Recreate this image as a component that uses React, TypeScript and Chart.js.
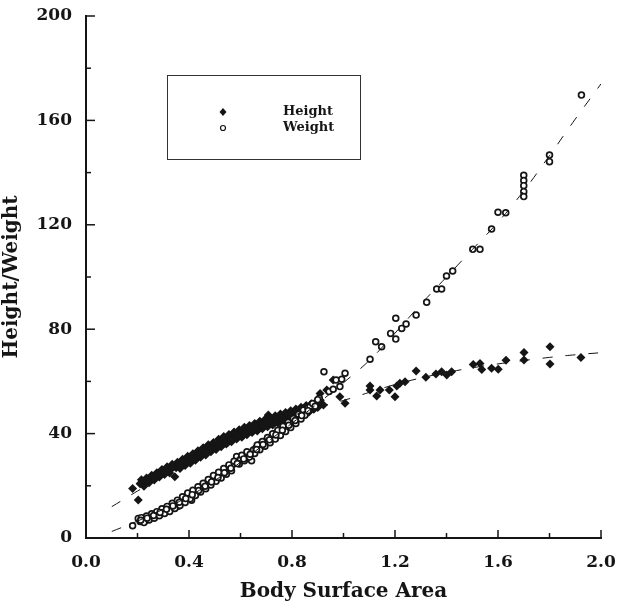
import React, { useEffect, useRef } from "react";
import { Chart, registerables } from "chart.js";

Chart.register(...registerables);

// Height (filled diamonds)
const heightBSA = [
  0.181, 0.203, 0.21, 0.22, 0.23, 0.24, 0.25, 0.26, 0.27, 0.28, 0.29, 0.3, 0.31, 0.32, 0.33, 0.34, 0.345, 0.35,
  0.36, 0.37, 0.38, 0.4, 0.41, 0.42, 0.43, 0.44, 0.45, 0.46, 0.47, 0.48, 0.49, 0.5, 0.51, 0.52, 0.53, 0.54,
  0.55, 0.56, 0.57, 0.58, 0.59, 0.6, 0.61, 0.62, 0.63, 0.64, 0.65, 0.66, 0.67, 0.68, 0.69, 0.7, 0.708, 0.71,
  0.72, 0.73, 0.74, 0.75, 0.76, 0.77, 0.78, 0.79, 0.8, 0.81, 0.82, 0.83, 0.84, 0.85, 0.86, 0.87, 0.88, 0.895,
  0.909, 0.922, 0.935, 0.96, 0.986, 1.006, 1.103, 1.103, 1.129, 1.142, 1.178, 1.2, 1.207, 1.219, 1.239, 1.282,
  1.32, 1.359, 1.381, 1.401, 1.42, 1.504, 1.53, 1.537, 1.575, 1.601, 1.631, 1.701, 1.701, 1.802, 1.802, 1.922,
  0.215, 0.225, 0.235, 0.245, 0.255, 0.265, 0.275, 0.285, 0.295, 0.305, 0.315, 0.325, 0.335, 0.355, 0.365,
  0.375, 0.385, 0.395, 0.405, 0.415, 0.425, 0.435, 0.445, 0.455, 0.465, 0.475, 0.485, 0.495, 0.505, 0.515,
  0.525, 0.535, 0.545, 0.555, 0.565, 0.575, 0.585, 0.595, 0.605, 0.615, 0.625, 0.635, 0.645, 0.655, 0.665,
  0.675, 0.685, 0.695, 0.705, 0.715, 0.725, 0.735, 0.745, 0.755, 0.765, 0.775, 0.785, 0.795, 0.805, 0.815,
  0.825, 0.835, 0.845, 0.855, 0.865, 0.875, 0.885, 0.895, 0.9, 0.91,
  0.2125, 0.2375, 0.2625, 0.2875, 0.3125, 0.3375, 0.3625, 0.3875, 0.4125, 0.4375, 0.4625, 0.4875, 0.5125, 0.5375,
  0.5625, 0.5875, 0.6125, 0.6375, 0.6625, 0.6875, 0.7125, 0.7375, 0.7625, 0.7875, 0.8125, 0.8375, 0.8625, 0.8875,
];
const heightVal = [
  19.0, 14.6, 20.8, 21.5, 21.0, 22.6, 22.0, 23.5, 23.0, 24.6, 24.0, 25.3, 26.2, 25.5, 26.8, 27.5, 23.5, 26.9,
  28.4, 27.8, 29.5, 30.2, 29.4, 31.3, 30.6, 32.4, 31.8, 33.5, 32.9, 34.6, 33.8, 35.5, 34.9, 36.6, 36.0, 37.4,
  36.6, 38.4, 37.8, 39.3, 38.6, 40.0, 39.4, 41.0, 40.3, 41.8, 41.2, 42.5, 41.9, 43.4, 42.7, 43.8, 47.1, 43.2,
  44.6, 44.0, 45.4, 44.8, 46.1, 45.5, 46.9, 46.2, 47.5, 46.9, 48.2, 47.6, 49.0, 48.3, 49.6, 48.9, 50.2, 51.0,
  55.4, 51.0, 56.7, 60.5, 54.1, 51.6, 58.2, 56.7, 54.4, 56.7, 56.7, 54.1, 58.2, 59.3, 59.9, 64.0,
  61.6, 62.8, 63.7, 62.5, 63.7, 66.5, 66.9, 64.6, 65.0, 64.7, 68.1, 71.1, 68.2, 73.3, 66.7, 69.2,
  22.3, 19.8, 23.0, 21.2, 24.0, 22.2, 25.0, 23.4, 26.2, 24.3, 27.3, 24.9, 28.3, 29.0, 26.6,
  30.2, 27.8, 31.3, 28.6, 32.3, 29.8, 33.4, 30.9, 34.6, 31.8, 35.7, 33.0, 36.6, 33.9, 37.8,
  35.0, 38.9, 36.0, 39.7, 36.9, 40.6, 37.9, 41.5, 38.6, 42.4, 39.6, 43.1, 40.4, 43.9, 41.0,
  44.7, 41.9, 45.4, 42.6, 46.1, 43.3, 46.8, 44.1, 47.5, 44.6, 48.1, 45.5, 48.8, 46.2, 49.4,
  46.9, 50.1, 47.6, 50.8, 48.2, 51.4, 49.3, 52.2, 50.0, 52.8,
  21.0, 22.2, 23.3, 24.5, 25.7, 27.0, 28.1, 29.3, 30.5, 31.8, 33.0, 34.3, 35.4, 36.8,
  37.9, 39.1, 40.2, 41.3, 42.3, 43.4, 44.4, 45.3, 46.3, 47.2, 48.1, 49.0, 49.9, 50.9,
];

// Weight (open circles)
const weightBSA = [
  0.181, 0.203, 0.21, 0.22, 0.23, 0.24, 0.25, 0.26, 0.27, 0.28, 0.29, 0.3, 0.31, 0.32, 0.33, 0.34, 0.35, 0.358,
  0.36, 0.37, 0.38, 0.39, 0.4, 0.41, 0.42, 0.43, 0.44, 0.45, 0.46, 0.47, 0.48, 0.49, 0.5, 0.51, 0.52, 0.53,
  0.54, 0.55, 0.56, 0.57, 0.585, 0.59, 0.6, 0.61, 0.62, 0.63, 0.643, 0.65, 0.66, 0.67, 0.68, 0.69, 0.7, 0.71,
  0.72, 0.73, 0.74, 0.75, 0.76, 0.77, 0.78, 0.79, 0.8, 0.81, 0.82, 0.83, 0.844, 0.862, 0.87, 0.88, 0.906,
  0.924, 0.944, 0.96, 0.971, 0.986, 0.993, 1.006, 1.103, 1.125, 1.148, 1.183, 1.203, 1.203, 1.226, 1.243,
  1.282, 1.323, 1.362, 1.381, 1.4, 1.424, 1.502, 1.53, 1.575, 1.6, 1.63, 1.7, 1.7, 1.7, 1.7, 1.7, 1.8, 1.8, 1.924,
  0.215, 0.225, 0.235, 0.245, 0.255, 0.265, 0.275, 0.285, 0.295, 0.305, 0.315, 0.325, 0.335, 0.345, 0.355,
  0.365, 0.375, 0.385, 0.395, 0.405, 0.415, 0.425, 0.435, 0.445, 0.455, 0.465, 0.475, 0.485, 0.495, 0.505,
  0.515, 0.525, 0.535, 0.545, 0.555, 0.565, 0.575, 0.595, 0.605, 0.615, 0.625, 0.635, 0.655, 0.665, 0.675,
  0.685, 0.695, 0.705, 0.715, 0.725, 0.735, 0.745, 0.755, 0.765, 0.775, 0.785, 0.795, 0.805, 0.815, 0.825,
  0.835, 0.85, 0.89, 0.9,
  0.2125, 0.2375, 0.2625, 0.2875, 0.3125, 0.3375, 0.3625, 0.3875, 0.4125, 0.4375, 0.4625, 0.4875, 0.5125, 0.5375,
  0.5625, 0.5875, 0.6125, 0.6375, 0.6625, 0.6875, 0.7125, 0.7375, 0.7625, 0.7875, 0.8125, 0.8375, 0.8625,
];
const weightVal = [
  4.7, 7.5, 6.3, 7.0, 6.6, 7.8, 8.2, 8.0, 9.1, 9.6, 9.3, 10.6, 11.2, 10.8, 12.0, 12.6, 12.9, 12.2,
  13.8, 14.3, 15.0, 15.6, 16.4, 14.5, 17.6, 18.3, 19.0, 19.8, 20.3, 21.2, 21.8, 22.4, 23.3, 23.8, 24.7, 25.3,
  26.0, 26.8, 27.3, 28.2, 31.2, 29.4, 30.2, 30.9, 31.7, 32.3, 29.6, 33.7, 34.5, 35.1, 36.0, 36.6, 37.4, 38.1,
  38.8, 39.6, 40.3, 41.0, 41.8, 42.5, 43.3, 44.0, 44.8, 45.6, 46.4, 47.2, 49.0, 49.8, 50.3, 51.5, 53.5,
  63.7, 56.1, 57.0, 60.5, 58.0, 60.8, 63.1, 68.5, 75.2, 73.3, 78.4, 76.2, 84.2, 80.3, 82.0,
  85.4, 90.3, 95.4, 95.4, 100.4, 102.3, 110.6, 110.6, 118.4, 124.8, 124.6, 139.0, 137.0, 135.0, 132.7, 130.8, 146.7, 144.2, 169.7,
  7.8, 5.9, 8.4, 6.9, 9.3, 7.6, 10.1, 8.5, 11.2, 9.4, 12.1, 10.2, 13.3, 11.3, 14.5,
  12.5, 15.8, 13.6, 17.2, 15.0, 18.3, 16.3, 19.6, 17.6, 21.0, 18.9, 22.4, 20.3, 23.9, 21.7,
  25.2, 23.0, 26.6, 24.4, 28.0, 25.8, 29.4, 28.4, 31.7, 29.6, 33.0, 31.0, 32.4, 35.6, 33.8,
  37.0, 35.2, 38.5, 36.5, 39.9, 37.9, 41.3, 39.3, 42.8, 40.8, 44.3, 42.3, 45.8, 43.9, 47.4,
  45.6, 47.0, 50.5, 53.0,
  6.8, 7.6, 8.6, 9.8, 11.0, 12.3, 13.7, 15.1, 16.6, 18.2, 19.8, 21.5, 23.2, 25.0,
  26.7, 28.5, 30.3, 32.1, 33.9, 35.8, 37.6, 39.5, 41.3, 43.2, 45.0, 46.9, 48.8,
];

// Fitted curves (dashed)
const fitBSA = [0.1, 0.2, 0.3, 0.4, 0.5, 0.6, 0.7, 0.8, 0.9, 1.0, 1.1, 1.2, 1.3, 1.4, 1.5, 1.6, 1.7, 1.8, 1.9, 2.0];
const heightFit = [12, 18, 23.8, 29.3, 34.3, 39, 43.2, 46.8, 50, 52.7, 55.8, 58.8, 61.3, 63.4, 65.2, 66.7, 68, 69.2, 70.2, 71];
const weightFit = [2.5, 6.5, 11, 16, 22, 29, 36.5, 44, 51.5, 59.5, 68, 78.5, 89.5, 100, 110.5, 121, 133, 146.5, 160.5, 174];

const xMajorTicks = [0, 0.4, 0.8, 1.2, 1.6, 2.0];
const yMajorTicks = [0, 40, 80, 120, 160, 200];
const legendLabels = ["Height", "Weight"];

const FONT = "'DejaVu Serif', 'Liberation Serif', serif";
const INK = "#151515";

const isMajor = (list: number[], v: number) => list.some((m) => Math.abs(m - v) < 1e-6);

const inwardTicks = {
  id: "inwardTicks",
  afterDraw(chart: any) {
    const { ctx, chartArea } = chart;
    const xs = chart.scales.x;
    const ys = chart.scales.y;
    ctx.save();
    ctx.strokeStyle = INK;
    ctx.lineWidth = 1.5;
    ys.ticks.forEach((t: any) => {
      const py = ys.getPixelForValue(t.value);
      const len = isMajor(yMajorTicks, t.value) ? 9 : 5;
      ctx.beginPath();
      ctx.moveTo(chartArea.left, py);
      ctx.lineTo(chartArea.left + len, py);
      ctx.stroke();
    });
    xs.ticks.forEach((t: any) => {
      const px = xs.getPixelForValue(t.value);
      const len = isMajor(xMajorTicks, t.value) ? 8 : 5;
      ctx.beginPath();
      ctx.moveTo(px, chartArea.bottom);
      ctx.lineTo(px, chartArea.bottom - len);
      ctx.stroke();
    });
    ctx.restore();
  },
};

const boxLegend = {
  id: "boxLegend",
  afterDraw(chart: any) {
    const { ctx, chartArea } = chart;
    const bx = chartArea.left + 81;
    const by = chartArea.top + 59;
    ctx.save();
    ctx.strokeStyle = "#333";
    ctx.lineWidth = 1;
    ctx.strokeRect(bx + 0.5, by + 0.5, 193, 84);
    const mx = bx + 56;
    ctx.fillStyle = INK;
    ctx.beginPath();
    ctx.moveTo(mx, by + 37 - 4);
    ctx.lineTo(mx + 3.5, by + 37);
    ctx.lineTo(mx, by + 37 + 4);
    ctx.lineTo(mx - 3.5, by + 37);
    ctx.closePath();
    ctx.fill();
    ctx.beginPath();
    ctx.arc(mx, by + 53, 2.5, 0, Math.PI * 2);
    ctx.fillStyle = "#fff";
    ctx.fill();
    ctx.lineWidth = 1.2;
    ctx.strokeStyle = INK;
    ctx.stroke();
    ctx.fillStyle = INK;
    ctx.font = `bold 13px ${FONT}`;
    ctx.textBaseline = "middle";
    ctx.textAlign = "left";
    ctx.fillText(legendLabels[0], bx + 116, by + 37);
    ctx.fillText(legendLabels[1], bx + 116, by + 53);
    ctx.restore();
  },
};

const pts = (xs: number[], ys: number[]) => xs.map((x, i) => ({ x, y: ys[i] }));

export default function App() {
  const ref = useRef<HTMLCanvasElement | null>(null);
  useEffect(() => {
    if (!ref.current) return;
    const chart = new Chart(ref.current, {
      type: "scatter",
      data: {
        datasets: [
          {
            label: "Height fit",
            data: pts(fitBSA, heightFit),
            showLine: true,
            borderColor: INK,
            borderWidth: 1,
            borderDash: [10, 13],
            pointRadius: 0,
            tension: 0.4,
            fill: false,
          },
          {
            label: "Weight fit",
            data: pts(fitBSA, weightFit),
            showLine: true,
            borderColor: INK,
            borderWidth: 1,
            borderDash: [10, 13],
            pointRadius: 0,
            tension: 0.4,
            fill: false,
          },
          {
            label: "Weight",
            data: pts(weightBSA, weightVal),
            pointStyle: "circle",
            pointRadius: 2.9,
            backgroundColor: "#fff",
            borderColor: INK,
            borderWidth: 1.7,
          },
          {
            label: "Height",
            data: pts(heightBSA, heightVal),
            pointStyle: "rectRot",
            pointRadius: 4.5,
            backgroundColor: INK,
            borderColor: INK,
            borderWidth: 0,
          },
        ],
      },
      options: {
        animation: false,
        responsive: true,
        maintainAspectRatio: false,
        layout: { padding: { left: 0, top: 16, right: 16, bottom: 0 } },
        plugins: { legend: { display: false }, tooltip: { enabled: false } },
        scales: {
          x: {
            type: "linear",
            min: 0,
            max: 2,
            afterFit: (s: any) => {
              s.height = 66;
              s.paddingLeft = 0;
              s.paddingRight = 0;
            },
            grid: { display: false, drawTicks: false },
            border: { display: true, color: INK, width: 2 },
            ticks: {
              stepSize: 0.2,
              autoSkip: false,
              maxRotation: 0,
              padding: 14,
              color: INK,
              font: { family: FONT, size: 17, weight: "bold" },
              callback: (v: any) => (isMajor(xMajorTicks, Number(v)) ? Number(v).toFixed(1) : ""),
            },
            title: {
              display: true,
              text: "Body Surface Area",
              color: INK,
              font: { family: FONT, size: 20, weight: "bold" },
              padding: { top: 0, bottom: 0 },
            },
          },
          y: {
            type: "linear",
            min: 0,
            max: 200,
            afterFit: (s: any) => {
              s.width = 86;
              s.paddingTop = 0;
              s.paddingBottom = 0;
            },
            grid: { display: false, drawTicks: false },
            border: { display: true, color: INK, width: 2 },
            ticks: {
              stepSize: 20,
              autoSkip: false,
              padding: 14,
              color: INK,
              font: { family: FONT, size: 17, weight: "bold" },
              callback: (v: any) => (isMajor(yMajorTicks, Number(v)) ? String(Math.round(Number(v))) : ""),
            },
            title: {
              display: true,
              text: "Height/Weight",
              color: INK,
              font: { family: FONT, size: 20, weight: "bold" },
              padding: { top: 0, bottom: 0 },
            },
          },
        },
      },
      plugins: [inwardTicks, boxLegend],
    });
    return () => chart.destroy();
  }, []);
  return (
    <div style={{ position: "fixed", left: 0, top: 0, width: 617, height: 604, background: "#fff" }}>
      <canvas ref={ref} />
    </div>
  );
}
